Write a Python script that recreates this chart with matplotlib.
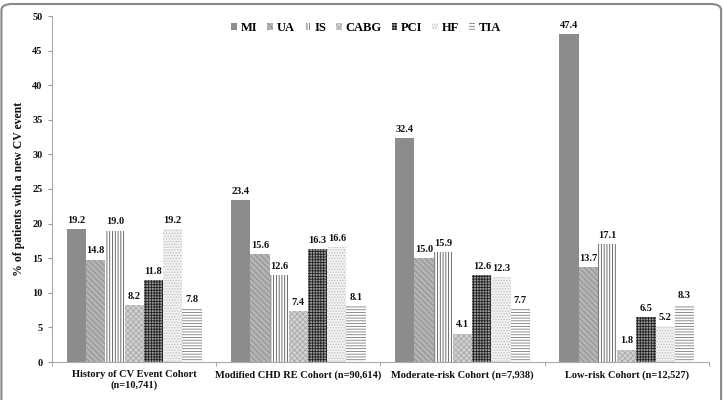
import numpy as np
import matplotlib
matplotlib.use("Agg")
import matplotlib.pyplot as plt
from matplotlib.patches import FancyBboxPatch

cohorts = ["History of CV Event Cohort\n(n=10,741)",
           "Modified CHD RE Cohort (n=90,614)",
           "Moderate-risk Cohort (n=7,938)",
           "Low-risk Cohort (n=12,527)"]
events = ["MI", "UA", "IS", "CABG", "PCI", "HF", "TIA"]

mi = [19.2, 23.4, 32.4, 47.4]
ua = [14.8, 15.6, 15.0, 13.7]
is_ = [19.0, 12.6, 15.9, 17.1]
cabg = [8.2, 7.4, 4.1, 1.8]
pci = [11.8, 16.3, 12.6, 6.5]
hf = [19.2, 16.6, 12.3, 5.2]
tia = [7.8, 8.1, 7.7, 8.3]
series = [mi, ua, is_, cabg, pci, hf, tia]

# face colour, hatch colour, hatch pattern
styles = [
    ("#8c8c8c", "#7a7a7a", ""),
    ("#b4b4b4", "#8a8a8a", "\\\\\\\\\\\\"),
    ("#ffffff", "#555555", "||||||"),
    ("#d2d2d2", "#a8a8a8", "xxxxxx"),
    ("#9a9a9a", "#222222", "++++++"),
    ("#f2f2f2", "#bdbdbd", "......"),
    ("#ffffff", "#7a7a7a", "------"),
]

plt.rcParams["font.family"] = "Liberation Serif"
plt.rcParams["font.weight"] = "bold"
plt.rcParams["hatch.linewidth"] = 0.6

fig = plt.figure(figsize=(7.24, 4.0), dpi=100)
ax = fig.add_axes([0.072, 0.095, 0.907, 0.865])

x = np.arange(len(cohorts))
w = 0.82 / len(events)
handles = []
for j, (vals, (fc, hc, hatch)) in enumerate(zip(series, styles)):
    pos = x + (j - 3) * w
    bars = ax.bar(pos, vals, width=w, color=fc, edgecolor=hc, hatch=hatch,
                  linewidth=0, label=events[j])
    handles.append(bars)
    for p, v in zip(pos, vals):
        ax.annotate(f"{v:.1f}", (p, v), xytext=(0, 3), textcoords="offset points",
                    ha="center", va="bottom", fontsize=7.5, fontweight="bold",
                    color="#111111")

ax.set_xlim(-0.5, 3.5)
ax.set_ylim(0, 50)
ax.set_yticks(range(0, 51, 5))
ax.set_xticks(x)
ax.set_xticklabels(cohorts, fontsize=7.5, fontweight="bold", color="#111111")
ax.set_xticks(np.arange(-0.5, 4, 1), minor=True)
ax.tick_params(axis="x", which="major", length=0, pad=6)
ax.tick_params(axis="x", which="minor", length=3, color="#999999")
ax.tick_params(axis="y", length=3, color="#999999", labelsize=7.5,
               labelcolor="#111111", pad=4)
for lab in ax.get_yticklabels():
    lab.set_fontweight("bold")
for s in ["top", "right"]:
    ax.spines[s].set_visible(False)
ax.spines["left"].set_color("#aaaaaa")
ax.spines["bottom"].set_color("#aaaaaa")

ax.set_ylabel("% of patients with a new CV event", fontsize=8.5,
              fontweight="bold", color="#111111", labelpad=5)

ax.legend(handles=handles, labels=events, loc="center", ncol=7,
          bbox_to_anchor=(0.478, 0.966), frameon=False,
          handlelength=0.45, handleheight=0.45, handletextpad=0.3,
          columnspacing=0.8, prop={"weight": "bold", "size": 9})

border = FancyBboxPatch((0.002, -0.05), 0.994, 1.04,
                        boxstyle="round,pad=0,rounding_size=0.015",
                        transform=fig.transFigure, fill=False,
                        edgecolor="#888888", linewidth=1.5)
fig.patches.append(border)

fig.savefig("out.png", dpi=100)
